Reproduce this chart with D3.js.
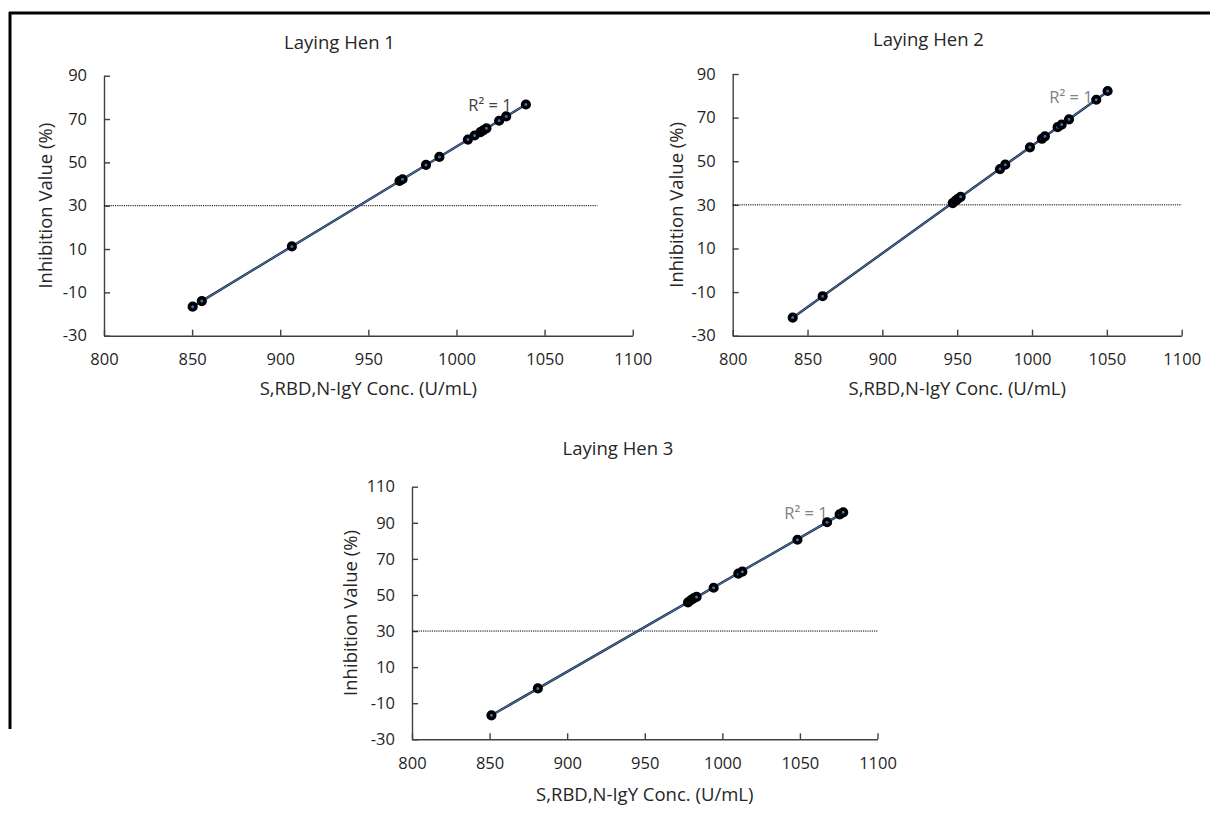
<!DOCTYPE html>
<html>
<head>
<meta charset="utf-8">
<script src="https://cdn.jsdelivr.net/npm/d3@7"></script>
<style>
  body { margin: 0; background: #fff; }
  svg { display: block; font-family: "Open Sans", sans-serif; }
</style>
</head>
<body>
<div id="chart"></div>
<script>
// Data (S,RBD,N-IgY conc. vs inhibition value)
var hen1Conc = [850.3, 855.5, 906.6, 967.7, 969.4, 982.7, 990.3, 1006.5, 1010.3, 1013.6, 1015.2, 1017.0, 1024.2, 1028.2, 1039.4];
var hen1Inhib = [-16.6, -14.0, 11.2, 41.4, 42.2, 48.8, 52.5, 60.5, 62.4, 64.0, 64.8, 65.7, 69.2, 71.2, 76.7];

var hen2Conc = [840.1, 860.1, 947.0, 949.0, 950.5, 952.3, 978.6, 982.1, 998.6, 1006.6, 1008.6, 1017.1, 1019.8, 1024.7, 1042.9, 1050.5];
var hen2Inhib = [-21.7, -11.9, 30.8, 31.9, 32.8, 33.7, 46.4, 48.4, 56.4, 60.3, 61.4, 65.6, 66.8, 69.2, 78.2, 82.2];

var hen3Conc = [851.2, 881.1, 977.9, 979.8, 981.5, 983.4, 994.4, 1010.3, 1012.9, 1048.4, 1067.5, 1075.6, 1077.9];
var hen3Inhib = [-16.7, -1.8, 45.9, 47.2, 48.1, 48.9, 54.0, 61.8, 62.9, 80.6, 90.3, 94.7, 95.8];

var titles = ["Laying Hen 1", "Laying Hen 2", "Laying Hen 3"];
var xTicks = [800, 850, 900, 950, 1000, 1050, 1100];
var yTicksA = [-30, -10, 10, 30, 50, 70, 90];
var yTicksB = [-30, -10, 10, 30, 50, 70, 90, 110];
var cutoffValue = 30;
var cutoffEnd = [1080, 1100, 1100];
var r2Text = "R² = 1";

// Layout of each panel (pixel boxes)
var panels = [
  { conc: hen1Conc, inhib: hen1Inhib, yTicks: yTicksA, yMax: 90,
    left: 104, right: 632.7, top: 75.7, bottom: 335.7,
    titleX: 339.5, titleY: 43, yTitleX: 46, xTitleY: 389,
    r2X: 490, r2Y: 105.5, r2Color: "#404040" },
  { conc: hen2Conc, inhib: hen2Inhib, yTicks: yTicksA, yMax: 90,
    left: 732.7, right: 1181.7, top: 74, bottom: 335.7,
    titleX: 928.5, titleY: 40, yTitleX: 677, xTitleY: 389,
    r2X: 1071, r2Y: 97.7, r2Color: "#808080" },
  { conc: hen3Conc, inhib: hen3Inhib, yTicks: yTicksB, yMax: 110,
    left: 412, right: 877.5, top: 486.7, bottom: 739.3,
    titleX: 618, titleY: 449, yTitleX: 351, xTitleY: 795,
    r2X: 806, r2Y: 513, r2Color: "#808080" }
];

var svg = d3.select("#chart").append("svg")
  .attr("width", 1210)
  .attr("height", 824);

// frame lines of the cropped figure
svg.append("line").attr("x1", 9).attr("x2", 1210).attr("y1", 13).attr("y2", 13)
  .attr("stroke", "#000").attr("stroke-width", 3);
svg.append("line").attr("x1", 10).attr("x2", 10).attr("y1", 12).attr("y2", 729)
  .attr("stroke", "#000").attr("stroke-width", 3);

function linReg(xs, ys) {
  var mx = d3.mean(xs), my = d3.mean(ys);
  var sxy = d3.sum(xs, function (d, i) { return (d - mx) * (ys[i] - my); });
  var sxx = d3.sum(xs, function (d) { return (d - mx) * (d - mx); });
  var slope = sxy / sxx;
  return { slope: slope, intercept: my - slope * mx };
}

var plainFormat = function (d) { return String(d); };

panels.forEach(function (p, idx) {
  var x = d3.scaleLinear().domain([800, 1100]).range([p.left, p.right]);
  var y = d3.scaleLinear().domain([-30, p.yMax]).range([p.bottom, p.top]);
  var g = svg.append("g").attr("class", "panel-" + idx);

  // title
  g.append("text")
    .attr("x", p.titleX).attr("y", p.titleY)
    .attr("dy", "0.35em")
    .attr("text-anchor", "middle")
    .attr("font-size", 18.5)
    .attr("fill", "#262626")
    .text(titles[idx]);

  // axes
  var yAxis = g.append("g")
    .attr("transform", "translate(" + p.left + ",0)")
    .call(d3.axisLeft(y).tickValues(p.yTicks).tickFormat(plainFormat)
      .tickSizeInner(-6).tickSizeOuter(0).tickPadding(17));
  var xAxis = g.append("g")
    .attr("transform", "translate(0," + p.bottom + ")")
    .call(d3.axisBottom(x).tickValues(xTicks).tickFormat(plainFormat)
      .tickSizeInner(-6).tickSizeOuter(0).tickPadding(18));

  [yAxis, xAxis].forEach(function (a) {
    a.selectAll("path, line").attr("stroke", "#404040").attr("stroke-width", 1.4);
    a.selectAll("text").attr("font-size", 16.5).attr("fill", "#1f1f1f")
      .style("font-family", "'Open Sans', sans-serif");
  });

  // axis titles
  g.append("text")
    .attr("transform", "translate(" + p.yTitleX + "," + (p.top + p.bottom) / 2 + ") rotate(-90)")
    .attr("dy", "0.35em")
    .attr("text-anchor", "middle")
    .attr("font-size", 18.5)
    .attr("fill", "#262626")
    .text("Inhibition Value (%)");

  g.append("text")
    .attr("x", (p.left + p.right) / 2).attr("y", p.xTitleY)
    .attr("dy", "0.35em")
    .attr("text-anchor", "middle")
    .attr("font-size", 18.5)
    .attr("fill", "#262626")
    .text("S,RBD,N-IgY Conc. (U/mL)");

  // 30% cutoff dotted line
  g.append("line")
    .attr("x1", x(800)).attr("x2", x(cutoffEnd[idx]))
    .attr("y1", y(cutoffValue)).attr("y2", y(cutoffValue))
    .attr("stroke", "#000").attr("stroke-width", 1)
    .attr("stroke-dasharray", "1.2,1");

  // linear trend line
  var fit = linReg(p.conc, p.inhib);
  var x0 = d3.min(p.conc), x1 = d3.max(p.conc);
  var fitPts = [[x0, fit.intercept + fit.slope * x0], [x1, fit.intercept + fit.slope * x1]];
  var lineGen = d3.line().x(function (d) { return x(d[0]); }).y(function (d) { return y(d[1]); });
  g.append("path").attr("d", lineGen(fitPts))
    .attr("stroke", "#1c2535").attr("stroke-width", 2.4).attr("fill", "none");
  g.append("path").attr("d", lineGen(fitPts))
    .attr("stroke", "#4a7fd0").attr("stroke-width", 1).attr("fill", "none");

  // points
  g.selectAll("circle.pt")
    .data(p.conc.map(function (c, i) { return [c, p.inhib[i]]; }))
    .enter().append("circle")
    .attr("class", "pt")
    .attr("cx", function (d) { return x(d[0]); })
    .attr("cy", function (d) { return y(d[1]); })
    .attr("r", 3.3)
    .attr("fill", "#3b6fc0")
    .attr("stroke", "#000")
    .attr("stroke-width", 3.6);

  // R² label
  g.append("text")
    .attr("x", p.r2X).attr("y", p.r2Y)
    .attr("dy", "0.35em")
    .attr("text-anchor", "middle")
    .attr("font-size", 16.5)
    .attr("fill", p.r2Color)
    .text(r2Text);
});
</script>
</body>
</html>
